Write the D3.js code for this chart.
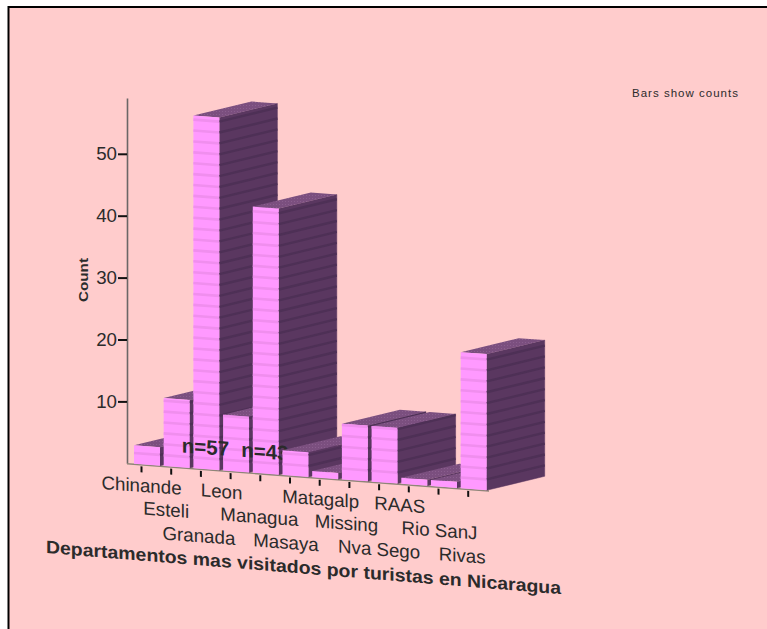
<!DOCTYPE html>
<html><head><meta charset="utf-8">
<script src="https://cdn.jsdelivr.net/npm/d3@7/dist/d3.min.js"></script>
<style>
html,body{margin:0;padding:0;background:#fff}
svg{display:block}
text{font-family:"Liberation Sans",Arial,sans-serif;fill:#2b2b2b}
</style></head><body>
<script>
const categories = ["Chinande","Esteli","Granada","Leon","Managua","Masaya","Matagalp","Missing","Nva Sego","RAAS","Rio SanJ","Rivas"];
const counts = [3,11,57,9,43,4,1,9,9,1,1,22];
const yTicks = [10,20,30,40,50];
const labelledCategories = ["Granada","Managua"];
const xTitle = "Departamentos mas visitados por turistas en Nicaragua";
const yTitle = "Count";
const note = "Bars show counts";

const W = 767, H = 629, slope = 0.075, ox = 127, oy = 463.3;
const depthX = 58, depthY = -14, barW = 26, stripeStep = 1.76, unit = 6.19;
const labelNudge = [0,-5,-2,-9,-1,-4,1,-3,0,-9,1,-6];
const svg = d3.select("body").append("svg").attr("width",W).attr("height",H);

// frame
svg.append("rect").attr("x",8).attr("y",7).attr("width",W-8).attr("height",H-7).attr("fill","#ffcccc");
svg.append("path").attr("d",`M8.5,${H}V7H${W}`).attr("fill","none").attr("stroke","#000").attr("stroke-width",2);

const xTick = d3.scalePoint().domain(categories).range([141,141+29.7*11]);
const yScale = d3.scaleLinear().domain([0,59]).range([oy,oy-59*unit]);
const height = v => oy - yScale(v);
const base = x => oy + slope*(x-ox);
const P = (x,v) => [x, base(x)-height(v)];
const line = pts => "M"+pts.map(p=>p.join(",")).join("L")+"Z";
const back = p => [p[0]+depthX,p[1]+depthY];

// Y axis
const yAxis = svg.append("g").attr("transform",`translate(${ox},0)`)
  .call(d3.axisLeft(yScale).tickValues(yTicks).tickSize(9).tickPadding(1).tickSizeOuter(0));
yAxis.select(".domain").attr("stroke","#6b6666").attr("stroke-width",1.6);
yAxis.selectAll(".tick line").attr("stroke","#111").attr("stroke-width",2);
yAxis.selectAll(".tick text").attr("font-size",18.7).attr("font-family",null).attr("fill","#333").attr("dy","0.3em");

// X axis, sheared along the floor
const xAxis = svg.append("g").attr("transform",`matrix(1,${slope},0,1,0,${oy-slope*ox})`)
  .call(d3.axisBottom(d3.scaleLinear().domain([141,141+29.7*11]).range([141,141+29.7*11]))
    .tickValues(categories.map(c=>xTick(c))).tickSize(8).tickSizeOuter(0).tickFormat((d,i)=>categories[i]));
xAxis.select(".domain").remove();
xAxis.append("line").attr("x1",ox).attr("x2",489).attr("y1",0.5).attr("y2",0.5).attr("stroke","#8f8578").attr("stroke-width",1.6);
xAxis.selectAll(".tick line").attr("stroke","#111").attr("stroke-width",2).attr("y1",2);
xAxis.selectAll(".tick text").attr("font-size",18.7).attr("fill","#3a3436")
  .attr("y",(d,i)=>[27.5,50,73.5][i%3]).attr("dy",0).attr("dx",(d,i)=>labelNudge[i]);

// bars
const defs = svg.append("defs");
const pat = defs.append("pattern").attr("id","topDots").attr("width",3).attr("height",3).attr("patternUnits","userSpaceOnUse");
pat.append("rect").attr("width",3).attr("height",3).attr("fill","#7b4f7f");
pat.append("rect").attr("width",1).attr("height",1).attr("fill","#8a5e8e");

const barLayer = svg.append("g");
const textLayer = (i) => {
  const c = categories[i];
  barLayer.append("g").attr("transform",`matrix(1,${slope},0,1,0,${oy-slope*ox})`)
    .append("text").attr("x",xTick(c)+5).attr("y",-15).attr("text-anchor","middle")
    .attr("font-size",20.5).attr("font-weight","bold").attr("fill","#1e1524").text("n="+counts[i]);
};
categories.forEach((c,i)=>{
  const xl = xTick(c)-7, xr = xl+barW, v = counts[i];
  const g = barLayer.append("g");
  // side
  g.append("path").attr("d",line([P(xr,v),P(xr,0),back(P(xr,0)),back(P(xr,v))])).attr("fill","#5a3760").attr("stroke","#5a3760").attr("stroke-width",.5);
  // top
  g.append("path").attr("d",line([P(xl,v),P(xr,v),back(P(xr,v)),back(P(xl,v))])).attr("fill","url(#topDots)");
  // front
  g.append("path").attr("d",line([P(xl,v),P(xr,v),P(xr,0),P(xl,0)])).attr("fill","#ff99ff");
  d3.range(stripeStep,v,stripeStep).forEach(s=>{
    const a=P(xl,s), b=P(xr,s), d=back(b);
    g.append("line").attr("x1",a[0]).attr("y1",a[1]).attr("x2",b[0]).attr("y2",b[1])
      .attr("stroke","#f08eee").attr("stroke-width",2.6);
    g.append("line").attr("x1",b[0]).attr("y1",b[1]).attr("x2",d[0]).attr("y2",d[1])
      .attr("stroke","#4e3056").attr("stroke-width",2.4);
  });
  // the labels sit above everything up to the last labelled bar
  if (i === categories.indexOf(labelledCategories[labelledCategories.length-1]))
    labelledCategories.forEach(l=>textLayer(categories.indexOf(l)));
});

// titles
svg.append("text").attr("transform",`matrix(1,0.08,0,1,46,553)`)
  .attr("font-size",18).attr("font-weight","bold").attr("textLength",515).attr("lengthAdjust","spacingAndGlyphs").text(xTitle);
svg.append("text").attr("transform","translate(88,280) rotate(-90)").attr("text-anchor","middle")
  .attr("font-size",13.5).attr("font-weight","bold").attr("textLength",44).attr("lengthAdjust","spacingAndGlyphs").text(yTitle);
svg.append("text").attr("x",632).attr("y",97).attr("font-size",11.5).attr("textLength",106).attr("lengthAdjust","spacing").attr("fill","#1a1a1a").text(note);
</script>
</body></html>
